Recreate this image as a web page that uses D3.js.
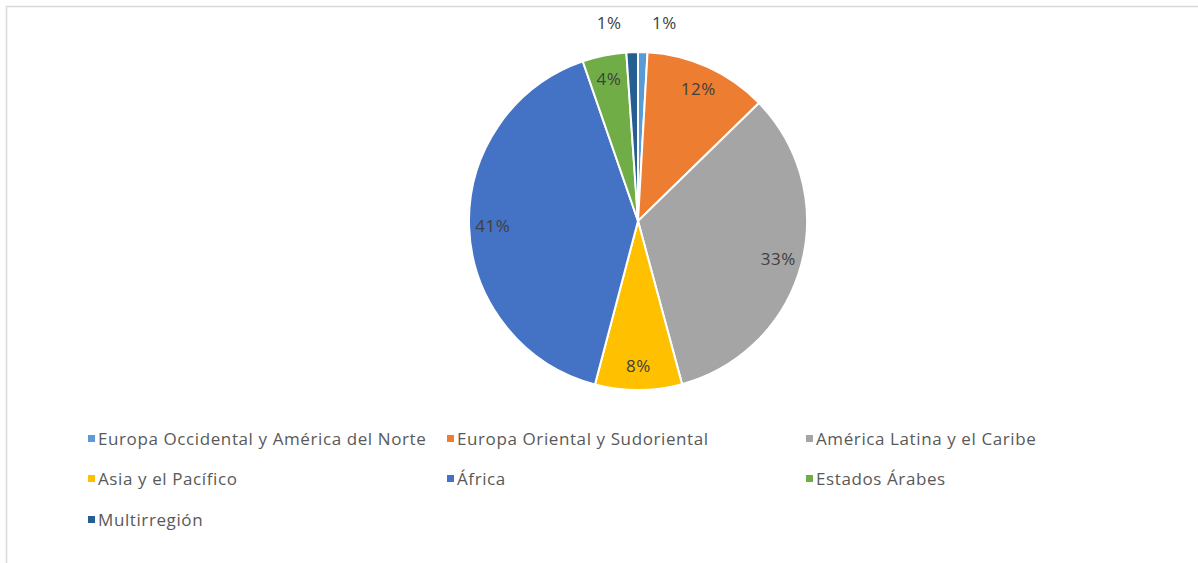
<!DOCTYPE html>
<html>
<head>
<meta charset="utf-8">
<script src="https://cdn.jsdelivr.net/npm/d3@7"></script>
<style>
  body { margin: 0; background: #fff; }
  text { font-family: "Open Sans", Lato, sans-serif; }
</style>
</head>
<body>
<div id="chart"></div>
<script>
// regiones y porcentajes
var regions = ["Europa Occidental y América del Norte", "Europa Oriental y Sudoriental",
    "América Latina y el Caribe", "Asia y el Pacífico", "África", "Estados Árabes", "Multirregión"];
var shares = [0.9, 11.8, 33.1, 8.3, 40.6, 4.2, 1.1];
var colors = ["#5B9BD5", "#ED7D31", "#A5A5A5", "#FFC000", "#4472C4", "#70AD47", "#255E91"];

var svgWidth = 1198, svgHeight = 563;
var cx = 638, cy = 221, radius = 169;

var svg = d3.select("#chart").append("svg")
    .attr("width", svgWidth)
    .attr("height", svgHeight);

// marco del area del grafico
svg.append("path")
    .attr("d", "M6.5," + svgHeight + "V6.5H" + svgWidth)
    .attr("fill", "none")
    .attr("stroke", "#d9d9d9")
    .attr("stroke-width", 1.5);

var data = regions.map(function(r, i) { return {name: r, value: shares[i], color: colors[i]}; });

var pie = d3.pie()
    .sort(null)
    .value(function(d) { return d.value; });

var arc = d3.arc().innerRadius(0).outerRadius(radius);
var labelArc = d3.arc().innerRadius(radius * 0.86).outerRadius(radius * 0.86);
var outerArc = d3.arc().innerRadius(radius + 26).outerRadius(radius + 26);

var total = d3.sum(shares);
var g = svg.append("g").attr("transform", "translate(" + cx + "," + cy + ")");

var slices = pie(data);

g.selectAll("path.slice")
    .data(slices)
    .enter().append("path")
    .attr("class", "slice")
    .attr("d", arc)
    .attr("fill", function(d) { return d.data.color; })
    .attr("stroke", "#fff")
    .attr("stroke-width", 2);

g.selectAll("text.lbl")
    .data(slices)
    .enter().append("text")
    .attr("class", "lbl")
    .attr("transform", function(d) {
        if (d.data.value < 2) {
            // las rebanadas pequenas llevan la etiqueta fuera
            var p = outerArc.centroid(d);
            var mid = (d.startAngle + d.endAngle) / 2;
            var shift = mid < Math.PI ? 21 : -22;
            return "translate(" + (p[0] + shift) + "," + (p[1] - 3) + ")";
        }
        return "translate(" + labelArc.centroid(d) + ")";
    })
    .attr("text-anchor", "middle")
    .attr("dy", "0.35em")
    .style("font-size", "17px")
    .style("letter-spacing", "0.5px")
    .style("fill", "#404040")
    .text(function(d) { return Math.round(d.data.value / total * 100) + "%"; });

// leyenda en tres columnas
var legendX = [88, 447, 806], legendY = [439, 479, 520];
var legend = svg.append("g").attr("class", "legend");

var items = legend.selectAll("g")
    .data(data)
    .enter().append("g")
    .attr("transform", function(d, i) {
        return "translate(" + legendX[i % 3] + "," + legendY[Math.floor(i / 3)] + ")";
    });

items.append("rect")
    .attr("x", 0)
    .attr("y", -4)
    .attr("width", 7)
    .attr("height", 7)
    .attr("fill", function(d) { return d.color; });

items.append("text")
    .attr("x", 10)
    .attr("dy", "0.35em")
    .style("font-size", "17px")
    .style("letter-spacing", "0.6px")
    .style("fill", "#595959")
    .text(function(d) { return d.name; });
</script>
</body>
</html>
